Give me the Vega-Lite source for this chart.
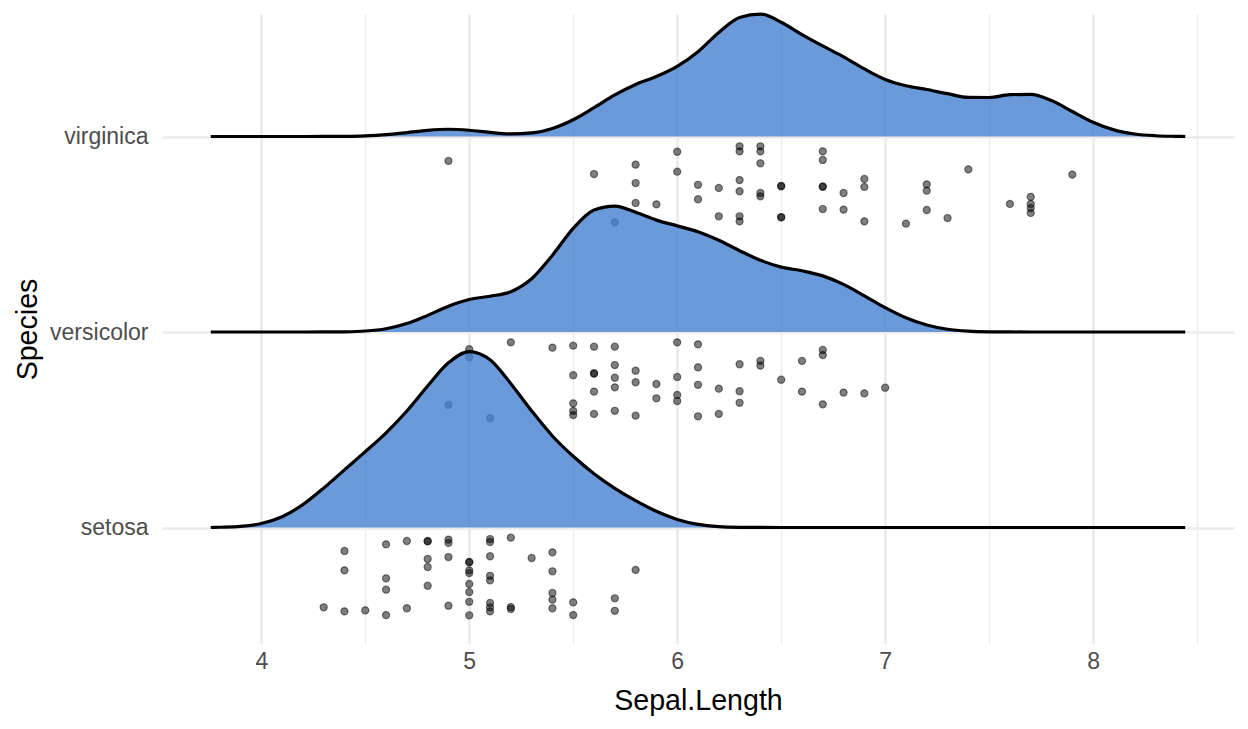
{
  "$schema": "https://vega.github.io/schema/vega-lite/v6.json",
  "width": 1072,
  "height": 630,
  "autosize": "none",
  "padding": {"left": 162, "top": 14, "right": 14, "bottom": 85},
  "background": "white",
  "config": {"view": {"stroke": null}, "font": "Liberation Sans"},
  "datasets": {
    "ridge_virginica": [
      {"Sepal_Length": 3.757, "y": 3}, {"Sepal_Length": 4.2, "y": 3}, {"Sepal_Length": 4.3, "y": 3.0002}, {"Sepal_Length": 4.4, "y": 3.0008},
      {"Sepal_Length": 4.5, "y": 3.0032}, {"Sepal_Length": 4.6, "y": 3.0094}, {"Sepal_Length": 4.7, "y": 3.0201}, {"Sepal_Length": 4.8, "y": 3.0318},
      {"Sepal_Length": 4.9, "y": 3.0371}, {"Sepal_Length": 5.0, "y": 3.032}, {"Sepal_Length": 5.1, "y": 3.0212}, {"Sepal_Length": 5.2, "y": 3.0139},
      {"Sepal_Length": 5.3, "y": 3.0185}, {"Sepal_Length": 5.4, "y": 3.0412}, {"Sepal_Length": 5.5, "y": 3.0855}, {"Sepal_Length": 5.6, "y": 3.1472},
      {"Sepal_Length": 5.7, "y": 3.2124}, {"Sepal_Length": 5.8, "y": 3.2662}, {"Sepal_Length": 5.9, "y": 3.3069}, {"Sepal_Length": 6.0, "y": 3.3587},
      {"Sepal_Length": 6.1, "y": 3.4334}, {"Sepal_Length": 6.2, "y": 3.532}, {"Sepal_Length": 6.3, "y": 3.6092}, {"Sepal_Length": 6.4, "y": 3.6262},
      {"Sepal_Length": 6.5, "y": 3.5846}, {"Sepal_Length": 6.6, "y": 3.5215}, {"Sepal_Length": 6.7, "y": 3.4633}, {"Sepal_Length": 6.8, "y": 3.4077},
      {"Sepal_Length": 6.9, "y": 3.3458}, {"Sepal_Length": 7.0, "y": 3.2921}, {"Sepal_Length": 7.1, "y": 3.2595}, {"Sepal_Length": 7.2, "y": 3.2403},
      {"Sepal_Length": 7.3, "y": 3.219}, {"Sepal_Length": 7.4, "y": 3.2}, {"Sepal_Length": 7.5, "y": 3.1994}, {"Sepal_Length": 7.6, "y": 3.2138},
      {"Sepal_Length": 7.7, "y": 3.2154}, {"Sepal_Length": 7.8, "y": 3.1838}, {"Sepal_Length": 7.9, "y": 3.128}, {"Sepal_Length": 8.0, "y": 3.0728},
      {"Sepal_Length": 8.1, "y": 3.0339}, {"Sepal_Length": 8.2, "y": 3.0128}, {"Sepal_Length": 8.3, "y": 3.0039}, {"Sepal_Length": 8.4, "y": 3.0009},
      {"Sepal_Length": 8.443, "y": 3}
    ],
    "ridge_versicolor": [
      {"Sepal_Length": 3.757, "y": 2}, {"Sepal_Length": 4.2, "y": 2}, {"Sepal_Length": 4.3, "y": 2.0002}, {"Sepal_Length": 4.4, "y": 2.0011},
      {"Sepal_Length": 4.5, "y": 2.005}, {"Sepal_Length": 4.6, "y": 2.0168}, {"Sepal_Length": 4.7, "y": 2.043}, {"Sepal_Length": 4.8, "y": 2.085},
      {"Sepal_Length": 4.9, "y": 2.1319}, {"Sepal_Length": 5.0, "y": 2.1661}, {"Sepal_Length": 5.1, "y": 2.1831}, {"Sepal_Length": 5.2, "y": 2.2063},
      {"Sepal_Length": 5.3, "y": 2.2724}, {"Sepal_Length": 5.4, "y": 2.3926}, {"Sepal_Length": 5.5, "y": 2.5299}, {"Sepal_Length": 5.6, "y": 2.6238},
      {"Sepal_Length": 5.7, "y": 2.6438}, {"Sepal_Length": 5.8, "y": 2.6122}, {"Sepal_Length": 5.9, "y": 2.5723}, {"Sepal_Length": 6.0, "y": 2.543},
      {"Sepal_Length": 6.1, "y": 2.5131}, {"Sepal_Length": 6.2, "y": 2.4696}, {"Sepal_Length": 6.3, "y": 2.4159}, {"Sepal_Length": 6.4, "y": 2.367},
      {"Sepal_Length": 6.5, "y": 2.332}, {"Sepal_Length": 6.6, "y": 2.313}, {"Sepal_Length": 6.7, "y": 2.2871}, {"Sepal_Length": 6.8, "y": 2.2434},
      {"Sepal_Length": 6.9, "y": 2.1852}, {"Sepal_Length": 7.0, "y": 2.1248}, {"Sepal_Length": 7.1, "y": 2.0729}, {"Sepal_Length": 7.2, "y": 2.0355},
      {"Sepal_Length": 7.3, "y": 2.0139}, {"Sepal_Length": 7.4, "y": 2.0043}, {"Sepal_Length": 7.5, "y": 2.001}, {"Sepal_Length": 7.6, "y": 2.0002},
      {"Sepal_Length": 7.7, "y": 2}, {"Sepal_Length": 8.443, "y": 2}
    ],
    "ridge_setosa": [
      {"Sepal_Length": 3.757, "y": 1}, {"Sepal_Length": 3.8, "y": 1.0013}, {"Sepal_Length": 3.9, "y": 1.0059}, {"Sepal_Length": 4.0, "y": 1.0205},
      {"Sepal_Length": 4.1, "y": 1.0552}, {"Sepal_Length": 4.2, "y": 1.117}, {"Sepal_Length": 4.3, "y": 1.2015}, {"Sepal_Length": 4.4, "y": 1.295},
      {"Sepal_Length": 4.5, "y": 1.3879}, {"Sepal_Length": 4.6, "y": 1.4845}, {"Sepal_Length": 4.7, "y": 1.5962}, {"Sepal_Length": 4.8, "y": 1.7241},
      {"Sepal_Length": 4.9, "y": 1.8424}, {"Sepal_Length": 5.0, "y": 1.8996}, {"Sepal_Length": 5.1, "y": 1.8578}, {"Sepal_Length": 5.2, "y": 1.7358},
      {"Sepal_Length": 5.3, "y": 1.5964}, {"Sepal_Length": 5.4, "y": 1.4682}, {"Sepal_Length": 5.5, "y": 1.3642}, {"Sepal_Length": 5.6, "y": 1.275},
      {"Sepal_Length": 5.7, "y": 1.2002}, {"Sepal_Length": 5.8, "y": 1.1371}, {"Sepal_Length": 5.9, "y": 1.0829}, {"Sepal_Length": 6.0, "y": 1.0413},
      {"Sepal_Length": 6.1, "y": 1.0162}, {"Sepal_Length": 6.2, "y": 1.0049}, {"Sepal_Length": 6.3, "y": 1.0011}, {"Sepal_Length": 6.4, "y": 1.0002},
      {"Sepal_Length": 6.5, "y": 1}, {"Sepal_Length": 8.443, "y": 1}
    ],
    "pts_virginica": [
      {"Sepal_Length": 4.9, "y": 2.875}, {"Sepal_Length": 5.6, "y": 2.808}, {"Sepal_Length": 5.7, "y": 2.561}, {"Sepal_Length": 5.8, "y": 2.856},
      {"Sepal_Length": 5.8, "y": 2.762}, {"Sepal_Length": 5.8, "y": 2.66}, {"Sepal_Length": 5.9, "y": 2.653}, {"Sepal_Length": 6.0, "y": 2.922},
      {"Sepal_Length": 6.0, "y": 2.82}, {"Sepal_Length": 6.1, "y": 2.753}, {"Sepal_Length": 6.1, "y": 2.679}, {"Sepal_Length": 6.2, "y": 2.737},
      {"Sepal_Length": 6.2, "y": 2.592}, {"Sepal_Length": 6.3, "y": 2.95}, {"Sepal_Length": 6.3, "y": 2.924}, {"Sepal_Length": 6.3, "y": 2.777},
      {"Sepal_Length": 6.3, "y": 2.72}, {"Sepal_Length": 6.3, "y": 2.592}, {"Sepal_Length": 6.3, "y": 2.566}, {"Sepal_Length": 6.4, "y": 2.95},
      {"Sepal_Length": 6.4, "y": 2.924}, {"Sepal_Length": 6.4, "y": 2.863}, {"Sepal_Length": 6.4, "y": 2.711}, {"Sepal_Length": 6.4, "y": 2.694},
      {"Sepal_Length": 6.5, "y": 2.748}, {"Sepal_Length": 6.5, "y": 2.745}, {"Sepal_Length": 6.5, "y": 2.588}, {"Sepal_Length": 6.5, "y": 2.586},
      {"Sepal_Length": 6.7, "y": 2.924}, {"Sepal_Length": 6.7, "y": 2.88}, {"Sepal_Length": 6.7, "y": 2.745}, {"Sepal_Length": 6.7, "y": 2.742},
      {"Sepal_Length": 6.7, "y": 2.629}, {"Sepal_Length": 6.8, "y": 2.711}, {"Sepal_Length": 6.8, "y": 2.626}, {"Sepal_Length": 6.9, "y": 2.783},
      {"Sepal_Length": 6.9, "y": 2.742}, {"Sepal_Length": 6.9, "y": 2.566}, {"Sepal_Length": 7.1, "y": 2.554}, {"Sepal_Length": 7.2, "y": 2.755},
      {"Sepal_Length": 7.2, "y": 2.723}, {"Sepal_Length": 7.2, "y": 2.624}, {"Sepal_Length": 7.3, "y": 2.583}, {"Sepal_Length": 7.4, "y": 2.832},
      {"Sepal_Length": 7.6, "y": 2.655}, {"Sepal_Length": 7.7, "y": 2.691}, {"Sepal_Length": 7.7, "y": 2.655}, {"Sepal_Length": 7.7, "y": 2.634},
      {"Sepal_Length": 7.7, "y": 2.609}, {"Sepal_Length": 7.9, "y": 2.805}
    ],
    "pts_versicolor": [
      {"Sepal_Length": 4.9, "y": 1.627}, {"Sepal_Length": 5.0, "y": 1.912}, {"Sepal_Length": 5.0, "y": 1.871}, {"Sepal_Length": 5.1, "y": 1.559},
      {"Sepal_Length": 5.2, "y": 1.947}, {"Sepal_Length": 5.4, "y": 1.92}, {"Sepal_Length": 5.5, "y": 1.93}, {"Sepal_Length": 5.5, "y": 1.779},
      {"Sepal_Length": 5.5, "y": 1.635}, {"Sepal_Length": 5.5, "y": 1.596}, {"Sepal_Length": 5.5, "y": 1.575}, {"Sepal_Length": 5.6, "y": 1.925},
      {"Sepal_Length": 5.6, "y": 1.789}, {"Sepal_Length": 5.6, "y": 1.787}, {"Sepal_Length": 5.6, "y": 1.695}, {"Sepal_Length": 5.6, "y": 1.581},
      {"Sepal_Length": 5.7, "y": 1.925}, {"Sepal_Length": 5.7, "y": 1.831}, {"Sepal_Length": 5.7, "y": 1.766}, {"Sepal_Length": 5.7, "y": 1.717},
      {"Sepal_Length": 5.7, "y": 1.597}, {"Sepal_Length": 5.8, "y": 1.802}, {"Sepal_Length": 5.8, "y": 1.743}, {"Sepal_Length": 5.8, "y": 1.572},
      {"Sepal_Length": 5.9, "y": 1.734}, {"Sepal_Length": 5.9, "y": 1.661}, {"Sepal_Length": 6.0, "y": 1.947}, {"Sepal_Length": 6.0, "y": 1.77},
      {"Sepal_Length": 6.0, "y": 1.678}, {"Sepal_Length": 6.0, "y": 1.647}, {"Sepal_Length": 6.1, "y": 1.937}, {"Sepal_Length": 6.1, "y": 1.819},
      {"Sepal_Length": 6.1, "y": 1.73}, {"Sepal_Length": 6.1, "y": 1.569}, {"Sepal_Length": 6.2, "y": 1.71}, {"Sepal_Length": 6.2, "y": 1.581},
      {"Sepal_Length": 6.3, "y": 1.835}, {"Sepal_Length": 6.3, "y": 1.697}, {"Sepal_Length": 6.3, "y": 1.638}, {"Sepal_Length": 6.4, "y": 1.852},
      {"Sepal_Length": 6.4, "y": 1.828}, {"Sepal_Length": 6.5, "y": 1.756}, {"Sepal_Length": 6.6, "y": 1.852}, {"Sepal_Length": 6.6, "y": 1.695},
      {"Sepal_Length": 6.7, "y": 1.908}, {"Sepal_Length": 6.7, "y": 1.882}, {"Sepal_Length": 6.7, "y": 1.63}, {"Sepal_Length": 6.8, "y": 1.69},
      {"Sepal_Length": 6.9, "y": 1.686}, {"Sepal_Length": 7.0, "y": 1.715}
    ],
    "pts_setosa": [
      {"Sepal_Length": 4.3, "y": 0.592}, {"Sepal_Length": 4.4, "y": 0.88}, {"Sepal_Length": 4.4, "y": 0.781}, {"Sepal_Length": 4.4, "y": 0.571},
      {"Sepal_Length": 4.5, "y": 0.576}, {"Sepal_Length": 4.6, "y": 0.914}, {"Sepal_Length": 4.6, "y": 0.74}, {"Sepal_Length": 4.6, "y": 0.682},
      {"Sepal_Length": 4.6, "y": 0.552}, {"Sepal_Length": 4.7, "y": 0.931}, {"Sepal_Length": 4.7, "y": 0.587}, {"Sepal_Length": 4.8, "y": 0.931},
      {"Sepal_Length": 4.8, "y": 0.929}, {"Sepal_Length": 4.8, "y": 0.839}, {"Sepal_Length": 4.8, "y": 0.798}, {"Sepal_Length": 4.8, "y": 0.702},
      {"Sepal_Length": 4.9, "y": 0.938}, {"Sepal_Length": 4.9, "y": 0.921}, {"Sepal_Length": 4.9, "y": 0.849}, {"Sepal_Length": 4.9, "y": 0.6},
      {"Sepal_Length": 5.0, "y": 0.824}, {"Sepal_Length": 5.0, "y": 0.822}, {"Sepal_Length": 5.0, "y": 0.781}, {"Sepal_Length": 5.0, "y": 0.767},
      {"Sepal_Length": 5.0, "y": 0.711}, {"Sepal_Length": 5.0, "y": 0.67}, {"Sepal_Length": 5.0, "y": 0.62}, {"Sepal_Length": 5.0, "y": 0.551},
      {"Sepal_Length": 5.1, "y": 0.941}, {"Sepal_Length": 5.1, "y": 0.926}, {"Sepal_Length": 5.1, "y": 0.853}, {"Sepal_Length": 5.1, "y": 0.753},
      {"Sepal_Length": 5.1, "y": 0.73}, {"Sepal_Length": 5.1, "y": 0.614}, {"Sepal_Length": 5.1, "y": 0.592}, {"Sepal_Length": 5.1, "y": 0.571},
      {"Sepal_Length": 5.2, "y": 0.948}, {"Sepal_Length": 5.2, "y": 0.593}, {"Sepal_Length": 5.2, "y": 0.583}, {"Sepal_Length": 5.3, "y": 0.844},
      {"Sepal_Length": 5.4, "y": 0.873}, {"Sepal_Length": 5.4, "y": 0.776}, {"Sepal_Length": 5.4, "y": 0.665}, {"Sepal_Length": 5.4, "y": 0.631},
      {"Sepal_Length": 5.4, "y": 0.587}, {"Sepal_Length": 5.5, "y": 0.617}, {"Sepal_Length": 5.5, "y": 0.552}, {"Sepal_Length": 5.7, "y": 0.638},
      {"Sepal_Length": 5.7, "y": 0.574}, {"Sepal_Length": 5.8, "y": 0.783}
    ]
  },
  "encoding": {
    "y": {"field": "y", "type": "quantitative",
      "scale": {"domain": [0.4041, 3.6266], "nice": false, "zero": false},
      "axis": {"values": [1, 2, 3], "labelExpr": "datum.value == 1 ? 'setosa' : datum.value == 2 ? 'versicolor' : 'virginica'",
        "grid": true, "gridColor": "#EBEBEB", "gridWidth": 2.7, "domain": false, "ticks": false, "tickSize": 0,
        "labelPadding": 14, "labelFontSize": 23, "labelColor": "#4D4D4D", "labelFont": "Liberation Sans",
        "title": "Species", "titleFontSize": 28.6, "titleFontWeight": "normal", "titleColor": "black", "titleFont": "Liberation Sans", "titlePadding": 7, "zindex": 0}}
  },
  "layer": [
    {
      "data": {"name": "ridge_virginica"},
      "mark": {"type": "area", "interpolate": "monotone", "fill": "#4581D0", "fillOpacity": 0.8, "line": {"color": "black", "strokeWidth": 3.2}},
      "encoding": {
        "x": {"field": "Sepal_Length", "type": "quantitative",
          "scale": {"domain": [3.5225, 8.6775], "nice": false, "zero": false},
          "axis": {"values": [4, 5, 6, 7, 8], "grid": true, "gridColor": "#EBEBEB", "gridWidth": 2.7, "domain": false, "ticks": false, "tickSize": 0,
            "labelPadding": 6, "labelFontSize": 23, "labelColor": "#4D4D4D", "labelFont": "Liberation Sans",
            "title": "Sepal.Length", "titleFontSize": 28.6, "titleFontWeight": "normal", "titleColor": "black", "titleFont": "Liberation Sans", "titlePadding": 13, "zindex": 0}},
        "y2": {"datum": 3}
      }
    },
    {
      "data": {"name": "pts_virginica"},
      "mark": {"type": "circle", "size": 50, "fill": "black", "fillOpacity": 0.5, "stroke": "black", "strokeOpacity": 0.5, "strokeWidth": 1.2},
      "encoding": {
        "x": {"field": "Sepal_Length", "type": "quantitative",
          "axis": {"orient": "top", "values": [4.5, 5.5, 6.5, 7.5, 8.5], "grid": true, "gridColor": "#EBEBEB", "gridWidth": 1.4, "domain": false, "ticks": false, "labels": false, "title": null, "zindex": 0}}
      }
    },
    {
      "data": {"name": "ridge_versicolor"},
      "mark": {"type": "area", "interpolate": "monotone", "fill": "#4581D0", "fillOpacity": 0.8, "line": {"color": "black", "strokeWidth": 3.2}},
      "encoding": {
        "x": {"field": "Sepal_Length", "type": "quantitative", "axis": null},
        "y2": {"datum": 2}
      }
    },
    {
      "data": {"name": "pts_versicolor"},
      "mark": {"type": "circle", "size": 50, "fill": "black", "fillOpacity": 0.5, "stroke": "black", "strokeOpacity": 0.5, "strokeWidth": 1.2},
      "encoding": {
        "x": {"field": "Sepal_Length", "type": "quantitative", "axis": null}
      }
    },
    {
      "data": {"name": "ridge_setosa"},
      "mark": {"type": "area", "interpolate": "monotone", "fill": "#4581D0", "fillOpacity": 0.8, "line": {"color": "black", "strokeWidth": 3.2}},
      "encoding": {
        "x": {"field": "Sepal_Length", "type": "quantitative", "axis": null},
        "y2": {"datum": 1}
      }
    },
    {
      "data": {"name": "pts_setosa"},
      "mark": {"type": "circle", "size": 50, "fill": "black", "fillOpacity": 0.5, "stroke": "black", "strokeOpacity": 0.5, "strokeWidth": 1.2},
      "encoding": {
        "x": {"field": "Sepal_Length", "type": "quantitative", "axis": null}
      }
    }
  ],
  "resolve": {"axis": {"x": "independent"}}
}
